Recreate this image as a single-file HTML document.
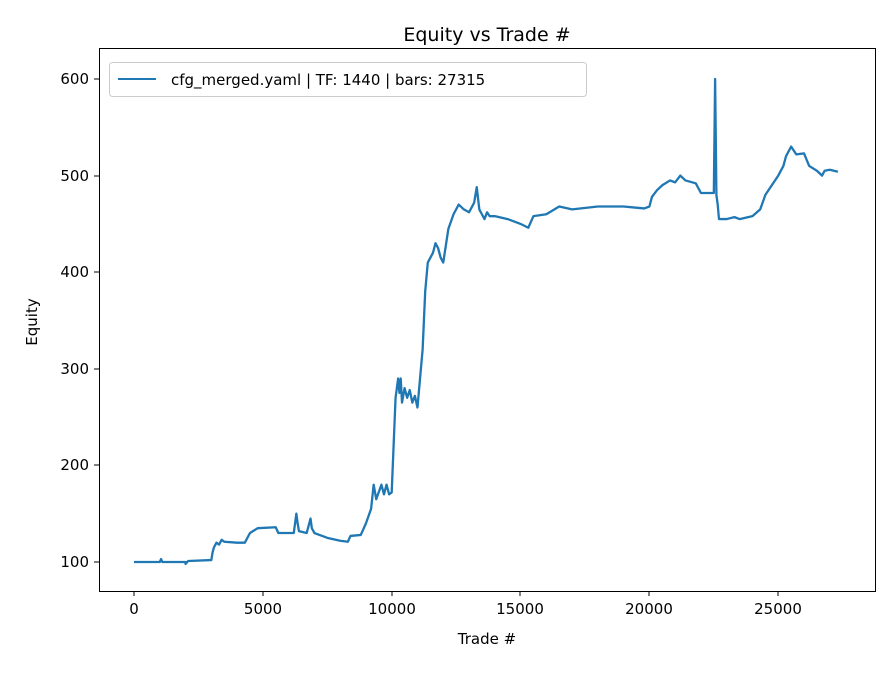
<!DOCTYPE html>
<html><head><meta charset="utf-8"><style>
body{margin:0;background:#fff;}
svg text{font-family:"DejaVu Sans","Liberation Sans",sans-serif;fill:#000;}
</style></head><body>
<svg width="896" height="672" viewBox="0 0 896 672" xmlns="http://www.w3.org/2000/svg">
<rect width="896" height="672" fill="#fff"/>
<text x="487" y="41" font-size="19" text-anchor="middle">Equity vs Trade #</text>
<g transform="translate(134,562) scale(0.02577,-0.966)">
<polyline fill="none" stroke="#1f77b4" stroke-width="2.3" vector-effect="non-scaling-stroke" stroke-linejoin="round" points="
0,0 1000,0 1050,3 1100,0 2000,0 2000,-2 2100,1 3000,2 3050,10 3100,15 3200,20 3300,18 3400,23 3500,21 4000,20 4300,20 4500,30 4800,35 5500,36 5600,30 6200,30 6300,50 6350,40 6400,32 6700,30 6800,40 6850,45 6900,35 7000,30 7500,25 8000,22 8300,21 8400,27 8800,28 9000,40 9200,55 9300,80 9400,65 9600,80 9700,70 9800,80 9900,70 10000,72 10050,105 10150,170 10200,180 10250,190 10300,175 10350,190 10400,165 10500,180 10600,170 10700,178 10800,165 10900,172 11000,160 11100,190 11200,220 11300,280 11400,310 11500,315 11600,320 11700,330 11800,325 11900,315 12000,310 12200,345 12400,360 12600,370 12800,365 13000,362 13200,372 13300,388 13400,365 13500,360 13600,355 13700,362 13800,358 14000,358 14500,355 15000,350 15300,346 15500,358 16000,360 16500,368 17000,365 18000,368 18500,368 19000,368 19800,366 20000,368 20100,378 20300,385 20500,390 20800,395 21000,393 21200,400 21400,395 21800,392 22000,382 22500,382 22550,500 22600,380 22650,370 22700,355 23000,355 23300,357 23500,355 24000,358 24300,365 24500,380 25000,400 25200,410 25300,420 25500,430 25700,422 26000,423 26200,410 26500,405 26700,400 26800,405 27000,406 27315,404"/>
</g>
<rect x="99.5" y="48.5" width="776" height="543" fill="none" stroke="#000" stroke-width="1"/>
<g stroke="#000" stroke-width="1">
<line x1="134" y1="591" x2="134" y2="596"/><line x1="263" y1="591" x2="263" y2="596"/><line x1="392" y1="591" x2="392" y2="596"/><line x1="520" y1="591" x2="520" y2="596"/><line x1="649" y1="591" x2="649" y2="596"/><line x1="778" y1="591" x2="778" y2="596"/>
<line x1="94" y1="562" x2="99" y2="562"/><line x1="94" y1="465" x2="99" y2="465"/><line x1="94" y1="369" x2="99" y2="369"/><line x1="94" y1="272" x2="99" y2="272"/><line x1="94" y1="176" x2="99" y2="176"/><line x1="94" y1="79" x2="99" y2="79"/>
</g>
<g font-size="15" text-anchor="middle">
<text x="134" y="614">0</text><text x="263" y="614">5000</text><text x="392" y="614">10000</text><text x="520" y="614">15000</text><text x="649" y="614">20000</text><text x="778" y="614">25000</text>
<text x="487" y="644">Trade #</text>
</g>
<g font-size="15" text-anchor="end">
<text x="89" y="567">100</text><text x="89" y="470">200</text><text x="89" y="374">300</text><text x="89" y="277">400</text><text x="89" y="181">500</text><text x="89" y="84">600</text>
</g>
<text transform="translate(37,322) rotate(-90)" font-size="15" text-anchor="middle">Equity</text>
<rect x="109.5" y="62.5" width="477" height="34" rx="3" fill="#fff" fill-opacity="0.8" stroke="#ccc"/>
<line x1="118" y1="79" x2="156" y2="79" stroke="#1f77b4" stroke-width="2"/>
<text x="171" y="85" font-size="15">cfg_merged.yaml | TF: 1440 | bars: 27315</text>
</svg>
</body></html>
